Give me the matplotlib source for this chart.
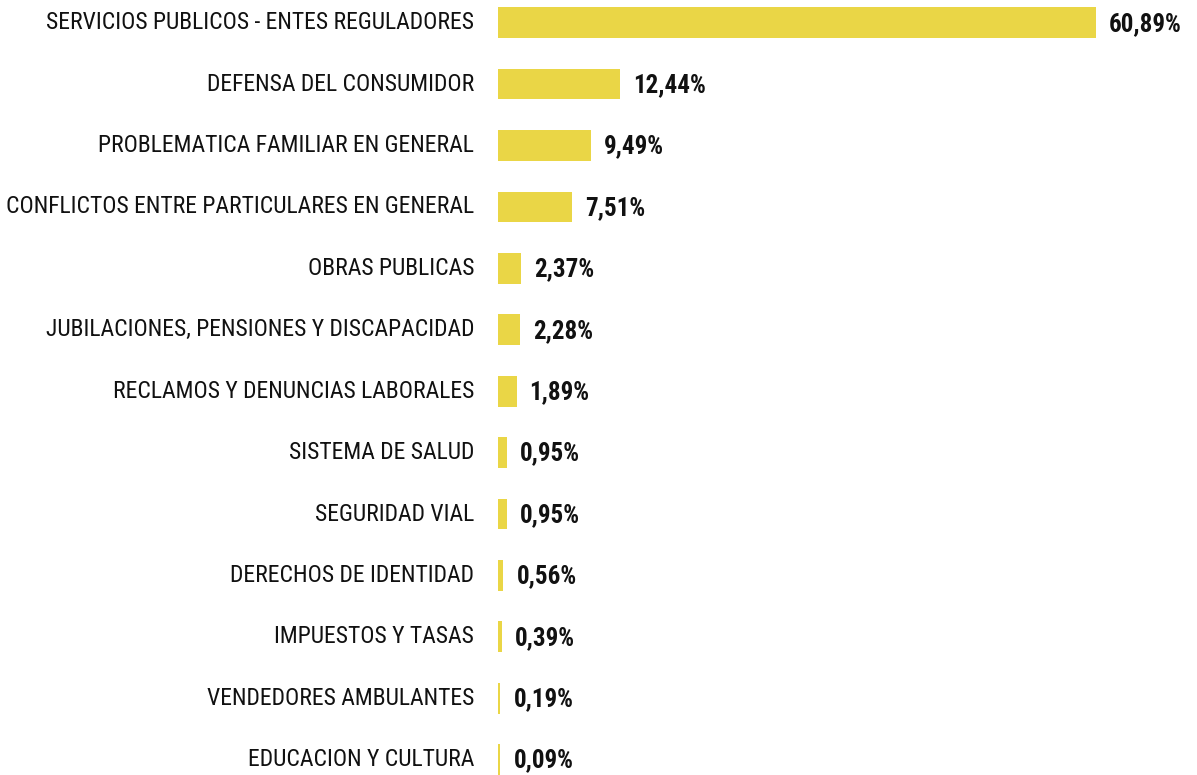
import matplotlib
matplotlib.use("Agg")
import matplotlib.pyplot as plt
from matplotlib import font_manager

categories = [
    "SERVICIOS PUBLICOS - ENTES REGULADORES",
    "DEFENSA DEL CONSUMIDOR",
    "PROBLEMATICA FAMILIAR EN GENERAL",
    "CONFLICTOS ENTRE PARTICULARES EN GENERAL",
    "OBRAS PUBLICAS",
    "JUBILACIONES, PENSIONES Y DISCAPACIDAD",
    "RECLAMOS Y DENUNCIAS LABORALES",
    "SISTEMA DE SALUD",
    "SEGURIDAD VIAL",
    "DERECHOS DE IDENTIDAD",
    "IMPUESTOS Y TASAS",
    "VENDEDORES AMBULANTES",
    "EDUCACION Y CULTURA",
]
values = [60.89, 12.44, 9.49, 7.51, 2.37, 2.28, 1.89, 0.95, 0.95, 0.56, 0.39, 0.19, 0.09]
value_labels = ["60,89%", "12,44%", "9,49%", "7,51%", "2,37%", "2,28%", "1,89%",
                "0,95%", "0,95%", "0,56%", "0,39%", "0,19%", "0,09%"]

names = {f.name for f in font_manager.fontManager.ttflist}
fam = [f for f in ["Liberation Sans Narrow", "Roboto Condensed", "Open Sans Condensed"] if f in names]
fam = fam + ["DejaVu Sans"]

W, H = 1197, 775
fig = plt.figure(figsize=(W / 100, H / 100), dpi=100)
ax = fig.add_axes([498 / W, 0, 1 - 498 / W, 1])

color = "#EAD646"
ys = list(range(len(categories)))
disp = [max(v, 0.25) for v in values]
ax.barh(ys, disp, height=0.5, color=color)
ax.set_xlim(0, 71.2)
ax.set_ylim(12.25, -0.37)
ax.axis("off")

for y, v, d, cat, lab in zip(ys, values, disp, categories, value_labels):
    ax.annotate(cat, xy=(0, y), xytext=(-24, 0), textcoords="offset pixels",
                ha="right", va="center", fontsize=17, color="#111111", family=fam)
    ax.annotate(lab, xy=(d, y), xytext=(13, -1), textcoords="offset pixels",
                ha="left", va="center", fontsize=18, fontweight="bold", color="#111111", family=fam)

fig.savefig("out.png", dpi=100, facecolor="white")
